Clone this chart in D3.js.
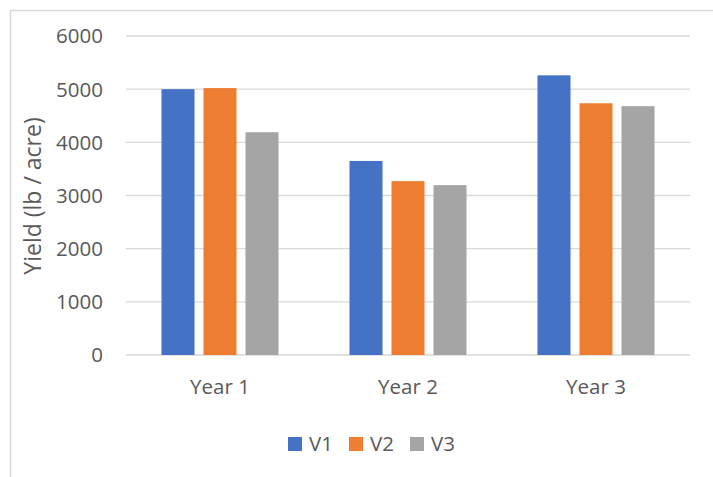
<!DOCTYPE html>
<html>
<head>
<meta charset="utf-8">
<script src="https://cdn.jsdelivr.net/npm/d3@7"></script>
<style>
  body { margin: 0; background: #fff; }
  text { font-family: "Open Sans", sans-serif; fill: #595959; }
</style>
</head>
<body>
<div id="chart"></div>
<script>
const categories = ['Year 1', 'Year 2', 'Year 3'];
const seriesNames = ['V1', 'V2', 'V3'];
const V1 = [5000, 3650, 5260];
const V2 = [5020, 3270, 4735];
const V3 = [4190, 3195, 4680];
const yTicks = [0, 1000, 2000, 3000, 4000, 5000, 6000];
const colors = ['#4472C4', '#ED7D31', '#A5A5A5'];

const width = 713, height = 477;
const margin = { top: 36, right: 23, bottom: 122, left: 126 };
const series = [V1, V2, V3];

const svg = d3.select('#chart').append('svg')
  .attr('width', width).attr('height', height);

// outer chart frame
svg.append('rect')
  .attr('x', 10.5).attr('y', 10.5)
  .attr('width', width + 10).attr('height', height + 10)
  .attr('fill', 'none').attr('stroke', '#d9d9d9').attr('stroke-width', 1.5);

const x0 = d3.scaleBand().domain(categories)
  .range([margin.left, width - margin.right]).paddingInner(0).paddingOuter(0);
const x1 = d3.scaleBand().domain(seriesNames)
  .range([0, x0.bandwidth()]).paddingInner(0.214).paddingOuter(0.845);
const y = d3.scaleLinear().domain([0, 6000])
  .range([height - margin.bottom, margin.top]);

/* ----------grid------------*/
svg.append('g').selectAll('line').data(yTicks).enter().append('line')
  .attr('x1', margin.left).attr('x2', width - margin.right)
  .attr('y1', d => y(d)).attr('y2', d => y(d))
  .attr('stroke', '#d9d9d9').attr('stroke-width', 1.3);

svg.append('g').selectAll('text').data(yTicks).enter().append('text')
  .attr('x', 103).attr('y', d => y(d)).attr('dy', '0.36em')
  .attr('text-anchor', 'end').style('font-size', '20.5px')
  .text(d => d);

/* ----------bars------------*/
const groups = svg.append('g').selectAll('g').data(categories).enter().append('g')
  .attr('transform', d => 'translate(' + x0(d) + ',0)');

groups.selectAll('rect')
  .data((c, i) => series.map((s, j) => ({ key: seriesNames[j], value: s[i], color: colors[j] })))
  .enter().append('rect')
  .attr('x', d => x1(d.key)).attr('width', x1.bandwidth())
  .attr('y', d => y(d.value)).attr('height', d => y(0) - y(d.value))
  .attr('fill', d => d.color);

/* ----------x labels------------*/
svg.append('g').selectAll('text').data(categories).enter().append('text')
  .attr('x', d => x0(d) + x0.bandwidth() / 2).attr('y', 387).attr('dy', '0.36em')
  .attr('text-anchor', 'middle').style('font-size', '20.5px')
  .text(d => d);

/* ----------y title------------*/
svg.append('text')
  .attr('transform', 'translate(33,196) rotate(-90)')
  .attr('text-anchor', 'middle').attr('dy', '0.36em').style('font-size', '23px')
  .text('Yield (lb / acre)');

/* ----------legend------------*/
const legend = svg.append('g').attr('transform', 'translate(288,444)');
const item = legend.selectAll('g').data(seriesNames).enter().append('g')
  .attr('transform', (d, i) => 'translate(' + (i * 61) + ',0)');
item.append('rect').attr('x', 0).attr('y', -7).attr('width', 14).attr('height', 14)
  .attr('fill', (d, i) => colors[i]);
item.append('text').attr('x', 21).attr('y', 0).attr('dy', '0.36em')
  .style('font-size', '20.5px').text(d => d);
</script>
</body>
</html>
